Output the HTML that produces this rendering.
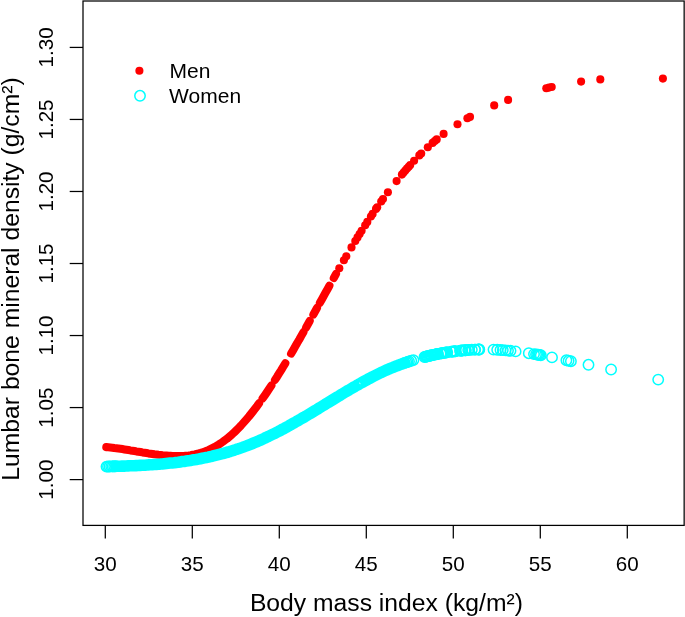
<!DOCTYPE html>
<html><head><meta charset="utf-8"><title>Lumbar BMD vs BMI</title>
<style>
html,body{margin:0;padding:0;background:#fff;}
body{width:685px;height:617px;overflow:hidden;}
svg{display:block;will-change:transform;}
text{font-family:"Liberation Sans",sans-serif;fill:#000;}
.t{font-size:20.6px;}
.l{font-size:24.7px;}
</style></head><body>
<svg width="685" height="617" viewBox="0 0 685 617">
<rect x="0" y="0" width="685" height="617" fill="#fff"/>
<g fill="none" stroke="#f00" stroke-width="8.10" stroke-linecap="round" stroke-linejoin="round">
<polyline points="106.3,447.1 108.3,447.3 110.3,447.5 112.3,447.7 114.3,448.0 116.3,448.2 118.4,448.5 120.4,448.8 122.4,449.1 124.4,449.4 126.4,449.7 128.4,450.0 130.4,450.4 132.4,450.7 134.4,451.0 136.4,451.4 138.4,451.7 140.5,452.0 142.5,452.4 144.5,452.7 146.5,453.0 148.5,453.4 150.5,453.7 152.5,454.0 154.5,454.3 156.5,454.5 158.5,454.8 160.5,455.0 162.6,455.3 164.6,455.5 166.6,455.6 168.6,455.8 170.6,455.9 172.6,456.0 174.6,456.1 176.6,456.1 178.6,456.1 180.6,456.1 182.6,456.0 184.7,455.9 186.7,455.7 188.7,455.5 190.7,455.2 192.7,454.8 194.7,454.5 196.7,454.0 198.7,453.5 200.7,452.9 202.7,452.2 204.8,451.5 206.8,450.7 208.8,449.9 210.8,448.9 212.8,447.9 214.8,446.9 216.8,445.7 218.8,444.5 220.8,443.2 222.8,441.8 224.8,440.3 226.9,438.8 228.9,437.1 230.9,435.4 232.9,433.6 234.9,431.7 236.9,429.8 238.9,427.7 240.9,425.6 242.9,423.4 244.9,421.1 246.9,418.8 249.0,416.4 251.0,413.9 253.0,411.4 255.0,408.8 257.0,406.2 259.0,403.4"/>
<polyline points="262.6,398.4 264.8,395.3 267.0,392.1 269.2,388.8 271.4,385.5"/>
<polyline points="275.0,379.9 277.1,376.7 279.1,373.4 281.2,370.1 283.2,366.7 285.3,363.3"/>
<polyline points="291.1,353.6 293.2,350.1 295.2,346.6 297.2,343.0 299.3,339.5 301.3,335.9 303.4,332.3"/>
<polyline points="306.1,327.5 307.9,324.3 309.7,321.1"/>
<polyline points="313.4,314.5 315.2,311.3 317.0,308.0"/>
<polyline points="319.9,302.8 321.8,299.4 323.7,296.0 325.6,292.6 327.5,289.2 329.4,285.8"/>
<polyline points="333.8,278.0 336.0,274.1"/>
</g>
<g fill="#f00">
<circle cx="339.3" cy="268.3" r="4.05"/>
<circle cx="343.9" cy="260.3" r="4.05"/>
<circle cx="346.3" cy="256.2" r="4.05"/>
<circle cx="351.5" cy="247.4" r="4.05"/>
<circle cx="355.3" cy="241.0" r="4.05"/>
<circle cx="357.5" cy="237.4" r="4.05"/>
<circle cx="359.6" cy="234.0" r="4.05"/>
<circle cx="361.6" cy="230.8" r="4.05"/>
<circle cx="365.2" cy="225.2" r="4.05"/>
<circle cx="367.3" cy="221.9" r="4.05"/>
<circle cx="370.9" cy="216.5" r="4.05"/>
<circle cx="372.6" cy="213.9" r="4.05"/>
<circle cx="376.0" cy="208.9" r="4.05"/>
<circle cx="377.2" cy="207.2" r="4.05"/>
<circle cx="381.2" cy="201.5" r="4.05"/>
<circle cx="383.0" cy="199.0" r="4.05"/>
<circle cx="387.9" cy="192.3" r="4.05"/>
<circle cx="396.6" cy="181.1" r="4.05"/>
<circle cx="401.9" cy="174.6" r="4.05"/>
<circle cx="403.6" cy="172.6" r="4.05"/>
<circle cx="405.3" cy="170.6" r="4.05"/>
<circle cx="407.0" cy="168.6" r="4.05"/>
<circle cx="408.7" cy="166.7" r="4.05"/>
<circle cx="410.2" cy="165.0" r="4.05"/>
<circle cx="414.1" cy="160.8" r="4.05"/>
<circle cx="419.3" cy="155.4" r="4.05"/>
<circle cx="421.2" cy="153.5" r="4.05"/>
<circle cx="427.8" cy="147.2" r="4.05"/>
<circle cx="432.6" cy="142.9" r="4.05"/>
<circle cx="434.8" cy="141.0" r="4.05"/>
<circle cx="436.7" cy="139.4" r="4.05"/>
<circle cx="443.6" cy="133.9" r="4.05"/>
<circle cx="457.5" cy="124.2" r="4.05"/>
<circle cx="467.4" cy="118.3" r="4.05"/>
<circle cx="470.0" cy="116.9" r="4.05"/>
<circle cx="494.2" cy="105.4" r="4.05"/>
<circle cx="508.1" cy="99.9" r="4.05"/>
<circle cx="546.3" cy="88.3" r="4.05"/>
<circle cx="549.0" cy="87.6" r="4.05"/>
<circle cx="551.7" cy="87.0" r="4.05"/>
<circle cx="581.1" cy="81.6" r="4.05"/>
<circle cx="600.3" cy="79.4" r="4.05"/>
<circle cx="662.9" cy="78.6" r="4.05"/>
</g>
<g fill="none" stroke="#0ff" stroke-width="11.6" stroke-linecap="butt" stroke-linejoin="round">
<polyline points="112.0,466.4 114.0,466.4 116.0,466.3 118.0,466.2 120.0,466.2 122.0,466.1 124.0,466.1 126.0,466.0 128.1,465.9 130.1,465.8 132.1,465.8 134.1,465.7 136.1,465.6 138.1,465.5 140.1,465.4 142.1,465.3 144.1,465.2 146.1,465.1 148.1,464.9 150.1,464.8 152.1,464.7 154.1,464.5 156.2,464.4 158.2,464.2 160.2,464.1 162.2,463.9 164.2,463.7 166.2,463.5 168.2,463.3 170.2,463.1 172.2,462.9 174.2,462.7 176.2,462.4 178.2,462.2 180.2,461.9 182.2,461.6 184.2,461.4 186.3,461.1 188.3,460.8 190.3,460.5 192.3,460.1 194.3,459.8 196.3,459.5 198.3,459.1 200.3,458.7 202.3,458.3 204.3,457.9 206.3,457.5 208.3,457.1 210.3,456.6 212.3,456.2 214.3,455.7 216.4,455.2 218.4,454.7 220.4,454.2 222.4,453.7 224.4,453.1 226.4,452.5 228.4,452.0 230.4,451.4 232.4,450.7 234.4,450.1 236.4,449.4 238.4,448.8 240.4,448.1 242.4,447.4 244.5,446.6 246.5,445.9 248.5,445.1 250.5,444.3 252.5,443.5 254.5,442.7 256.5,441.9 258.5,441.0 260.5,440.1 262.5,439.2 264.5,438.3 266.5,437.3 268.5,436.4 270.5,435.4 272.5,434.4 274.6,433.4 276.6,432.4 278.6,431.4 280.6,430.3 282.6,429.2 284.6,428.2 286.6,427.1 288.6,426.0 290.6,424.8 292.6,423.7 294.6,422.6 296.6,421.4 298.6,420.3 300.6,419.1 302.7,417.9 304.7,416.8 306.7,415.6 308.7,414.4 310.7,413.2 312.7,412.0 314.7,410.8 316.7,409.6 318.7,408.3 320.7,407.1 322.7,405.9 324.7,404.7 326.7,403.4 328.7,402.2 330.7,401.0 332.8,399.7 334.8,398.5 336.8,397.3 338.8,396.1 340.8,394.8 342.8,393.6 344.8,392.4 346.8,391.2 348.8,390.1 350.8,388.9 352.8,387.7 354.8,386.6 356.8,385.4 358.8,384.3 360.8,383.1 362.9,382.0 364.9,380.9 366.9,379.8 368.9,378.7 370.9,377.7 372.9,376.6 374.9,375.6 376.9,374.6 378.9,373.6 380.9,372.6 382.9,371.7 384.9,370.8 386.9,369.9 388.9,369.0 391.0,368.2 393.0,367.4 395.0,366.5 397.0,365.8 399.0,365.0 401.0,364.3 403.0,363.5 405.0,362.8"/>
</g>
<circle cx="405.0" cy="362.8" r="5.80" fill="#0ff"/>
<g fill="none" stroke="#0ff" stroke-width="1.5">
<circle cx="106.5" cy="466.6" r="5.2"/>
<circle cx="108.0" cy="466.5" r="5.2"/>
<circle cx="109.6" cy="466.5" r="5.2"/>
<circle cx="111.2" cy="466.4" r="5.2"/>
<circle cx="112.7" cy="466.4" r="5.2"/>
<circle cx="114.2" cy="466.4" r="5.2"/>
<circle cx="115.8" cy="466.3" r="5.2"/>
<circle cx="406.3" cy="362.4" r="5.2"/>
<circle cx="407.6" cy="361.9" r="5.2"/>
<circle cx="409.0" cy="361.5" r="5.2"/>
<circle cx="411.2" cy="360.8" r="5.2"/>
<circle cx="413.4" cy="360.1" r="5.2"/>
<circle cx="424.5" cy="357.0" r="5.2"/>
<circle cx="425.5" cy="356.7" r="5.2"/>
<circle cx="426.5" cy="356.5" r="5.2"/>
<circle cx="427.5" cy="356.2" r="5.2"/>
<circle cx="428.5" cy="356.0" r="5.2"/>
<circle cx="429.5" cy="355.8" r="5.2"/>
<circle cx="430.5" cy="355.5" r="5.2"/>
<circle cx="431.5" cy="355.3" r="5.2"/>
<circle cx="432.5" cy="355.1" r="5.2"/>
<circle cx="433.5" cy="354.9" r="5.2"/>
<circle cx="434.5" cy="354.6" r="5.2"/>
<circle cx="435.5" cy="354.4" r="5.2"/>
<circle cx="436.5" cy="354.2" r="5.2"/>
<circle cx="437.5" cy="354.0" r="5.2"/>
<circle cx="438.0" cy="353.9" r="5.2"/>
<circle cx="440.5" cy="353.5" r="5.2"/>
<circle cx="441.5" cy="353.3" r="5.2"/>
<circle cx="442.5" cy="353.1" r="5.2"/>
<circle cx="443.5" cy="352.9" r="5.2"/>
<circle cx="444.5" cy="352.8" r="5.2"/>
<circle cx="445.5" cy="352.6" r="5.2"/>
<circle cx="446.5" cy="352.4" r="5.2"/>
<circle cx="447.2" cy="352.3" r="5.2"/>
<circle cx="451.0" cy="351.8" r="5.2"/>
<circle cx="452.0" cy="351.6" r="5.2"/>
<circle cx="453.0" cy="351.5" r="5.2"/>
<circle cx="454.0" cy="351.4" r="5.2"/>
<circle cx="455.0" cy="351.2" r="5.2"/>
<circle cx="455.5" cy="351.2" r="5.2"/>
<circle cx="460.0" cy="350.7" r="5.2"/>
<circle cx="461.0" cy="350.6" r="5.2"/>
<circle cx="462.0" cy="350.5" r="5.2"/>
<circle cx="462.2" cy="350.5" r="5.2"/>
<circle cx="464.5" cy="350.3" r="5.2"/>
<circle cx="465.5" cy="350.2" r="5.2"/>
<circle cx="465.8" cy="350.2" r="5.2"/>
<circle cx="468.2" cy="350.0" r="5.2"/>
<circle cx="469.2" cy="349.9" r="5.2"/>
<circle cx="471.8" cy="349.8" r="5.2"/>
<circle cx="474.9" cy="349.6" r="5.2"/>
<circle cx="475.2" cy="349.6" r="5.2"/>
<circle cx="478.2" cy="349.5" r="5.2"/>
<circle cx="479.0" cy="349.5" r="5.2"/>
<circle cx="479.3" cy="349.5" r="5.2"/>
<circle cx="493.5" cy="349.6" r="5.2"/>
<circle cx="497.2" cy="349.8" r="5.2"/>
<circle cx="500.5" cy="350.0" r="5.2"/>
<circle cx="502.8" cy="350.1" r="5.2"/>
<circle cx="505.5" cy="350.4" r="5.2"/>
<circle cx="508.0" cy="350.6" r="5.2"/>
<circle cx="510.5" cy="350.8" r="5.2"/>
<circle cx="515.6" cy="351.4" r="5.2"/>
<circle cx="528.8" cy="353.2" r="5.2"/>
<circle cx="534.0" cy="354.1" r="5.2"/>
<circle cx="536.0" cy="354.4" r="5.2"/>
<circle cx="537.2" cy="354.6" r="5.2"/>
<circle cx="538.4" cy="354.8" r="5.2"/>
<circle cx="539.6" cy="355.0" r="5.2"/>
<circle cx="540.8" cy="355.3" r="5.2"/>
<circle cx="552.0" cy="357.4" r="5.2"/>
<circle cx="566.4" cy="360.3" r="5.2"/>
<circle cx="568.6" cy="360.8" r="5.2"/>
<circle cx="570.9" cy="361.2" r="5.2"/>
<circle cx="588.5" cy="364.8" r="5.2"/>
<circle cx="611.1" cy="369.5" r="5.2"/>
<circle cx="658.2" cy="379.6" r="5.2"/>
</g>
<ellipse cx="359.9" cy="383.4" rx="0.4" ry="1.0" fill="#fff" transform="rotate(-20 359.9 383.4)"/>
<g fill="none" stroke="#000" stroke-width="1.25">
<rect x="83.0" y="1.0" width="601.15" height="524.40"/>
<line x1="105.30" y1="525.4" x2="105.30" y2="538.6"/>
<line x1="192.30" y1="525.4" x2="192.30" y2="538.6"/>
<line x1="279.30" y1="525.4" x2="279.30" y2="538.6"/>
<line x1="366.30" y1="525.4" x2="366.30" y2="538.6"/>
<line x1="453.30" y1="525.4" x2="453.30" y2="538.6"/>
<line x1="540.30" y1="525.4" x2="540.30" y2="538.6"/>
<line x1="627.30" y1="525.4" x2="627.30" y2="538.6"/>
<line x1="83.0" y1="479.60" x2="69.7" y2="479.60"/>
<line x1="83.0" y1="407.57" x2="69.7" y2="407.57"/>
<line x1="83.0" y1="335.54" x2="69.7" y2="335.54"/>
<line x1="83.0" y1="263.51" x2="69.7" y2="263.51"/>
<line x1="83.0" y1="191.48" x2="69.7" y2="191.48"/>
<line x1="83.0" y1="119.45" x2="69.7" y2="119.45"/>
<line x1="83.0" y1="47.42" x2="69.7" y2="47.42"/>
</g>
<text class="t" x="105.3" y="570.6" text-anchor="middle">30</text>
<text class="t" x="192.3" y="570.6" text-anchor="middle">35</text>
<text class="t" x="279.3" y="570.6" text-anchor="middle">40</text>
<text class="t" x="366.3" y="570.6" text-anchor="middle">45</text>
<text class="t" x="453.3" y="570.6" text-anchor="middle">50</text>
<text class="t" x="540.3" y="570.6" text-anchor="middle">55</text>
<text class="t" x="627.3" y="570.6" text-anchor="middle">60</text>
<text class="t" transform="translate(52.7,479.6) rotate(-90)" text-anchor="middle">1.00</text>
<text class="t" transform="translate(52.7,407.6) rotate(-90)" text-anchor="middle">1.05</text>
<text class="t" transform="translate(52.7,335.5) rotate(-90)" text-anchor="middle">1.10</text>
<text class="t" transform="translate(52.7,263.5) rotate(-90)" text-anchor="middle">1.15</text>
<text class="t" transform="translate(52.7,191.5) rotate(-90)" text-anchor="middle">1.20</text>
<text class="t" transform="translate(52.7,119.5) rotate(-90)" text-anchor="middle">1.25</text>
<text class="t" transform="translate(52.7,47.4) rotate(-90)" text-anchor="middle">1.30</text>
<text class="l" x="386.4" y="610.7" text-anchor="middle">Body mass index (kg/m²)</text>
<text class="l" transform="translate(18.7,279.0) rotate(-90)" text-anchor="middle">Lumbar bone mineral density (g/cm²)</text>
<circle cx="139.4" cy="70.7" r="4.05" fill="#f00"/>
<circle cx="140.0" cy="95.8" r="5.2" fill="none" stroke="#0ff" stroke-width="1.5"/>
<text class="t" style="font-size:21px" x="169.5" y="78.1">Men</text>
<text class="t" style="font-size:21px" x="169.1" y="102.8">Women</text>
</svg></body></html>
